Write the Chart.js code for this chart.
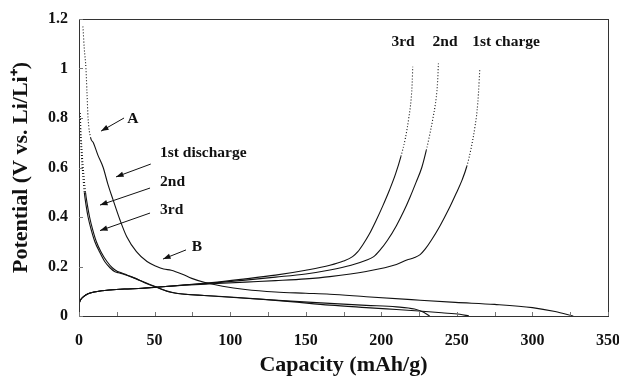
<!DOCTYPE html>
<html>
<head>
<meta charset="utf-8">
<script src="https://cdn.jsdelivr.net/npm/chart.js@4.4.0/dist/chart.umd.min.js"></script>
<style>
  html, body { margin: 0; padding: 0; background: #fff; }
  #wrap { width: 619px; height: 379px; }
</style>
</head>
<body>
<div id="wrap"><canvas id="capacity-chart" width="619" height="379"></canvas></div>
<script>
// discharge curves (capacity mAh/g, potential V)
const discharge1Cap = [2.6, 3.5, 4.6, 5.3, 6.0, 7.7, 9.5, 12.5, 16, 19, 22.5, 27, 31.6, 38, 45, 51.4, 56, 61, 68, 74.6, 83.4, 95, 110, 130, 150, 166, 190, 220, 249, 275, 300, 315, 327];
const discharge1V   = [1.17, 1.08, 1.0, 0.9, 0.8, 0.72, 0.70, 0.65, 0.60, 0.535, 0.47, 0.39, 0.32, 0.26, 0.22, 0.20, 0.19, 0.185, 0.17, 0.152, 0.135, 0.12, 0.107, 0.097, 0.092, 0.088, 0.078, 0.066, 0.055, 0.047, 0.034, 0.018, 0.0];

const discharge2Cap = [0.8, 1.5, 2.3, 3.2, 4.3, 5.5, 7, 9, 11.5, 14.5, 18.5, 22, 25.5, 28, 32, 38, 45, 52, 58, 64, 72, 83, 100, 120, 140, 166, 190, 210, 225, 240, 252, 258];
const discharge2V   = [0.82, 0.72, 0.64, 0.57, 0.5, 0.45, 0.4, 0.35, 0.3, 0.26, 0.22, 0.195, 0.18, 0.175, 0.165, 0.15, 0.13, 0.115, 0.1, 0.092, 0.087, 0.083, 0.077, 0.068, 0.058, 0.044, 0.034, 0.026, 0.02, 0.013, 0.007, 0];

const discharge3Cap = [0.5, 1.0, 1.7, 2.5, 3.5, 4.6, 6, 8, 10.5, 13.5, 17, 20.5, 23.5, 26, 30, 36, 43, 50, 56, 62, 70, 80, 95, 115, 140, 166, 190, 210, 222, 228, 232];
const discharge3V   = [0.82, 0.72, 0.64, 0.57, 0.5, 0.45, 0.4, 0.35, 0.3, 0.26, 0.22, 0.195, 0.18, 0.175, 0.168, 0.155, 0.137, 0.12, 0.105, 0.095, 0.088, 0.084, 0.078, 0.07, 0.06, 0.051, 0.043, 0.037, 0.028, 0.015, 0];

// charge curves
const charge1Cap = [0, 1, 3, 6, 10, 15, 20, 30, 42, 55, 70, 88, 110, 130, 150, 166, 190, 210, 216.9, 222, 225.7, 229, 233, 238.9, 244.5, 249.5, 253.5, 256.6, 259.5, 262, 263.4, 264.3, 265.2];
const charge1V   = [0.05, 0.065, 0.078, 0.09, 0.097, 0.102, 0.105, 0.109, 0.112, 0.118, 0.124, 0.13, 0.137, 0.143, 0.15, 0.159, 0.18, 0.208, 0.226, 0.236, 0.248, 0.27, 0.305, 0.365, 0.43, 0.495, 0.55, 0.605, 0.68, 0.765, 0.83, 0.9, 1.0];

const charge2Cap = [0, 1, 3, 6, 10, 15, 20, 30, 42, 55, 70, 88, 110, 130, 150, 166, 180, 190, 195, 199, 204, 210, 215, 219, 223, 226.8, 229.8, 232.3, 234.5, 236.3, 237.3, 237.8];
const charge2V   = [0.05, 0.065, 0.078, 0.09, 0.097, 0.102, 0.105, 0.109, 0.112, 0.118, 0.125, 0.133, 0.145, 0.157, 0.17, 0.186, 0.205, 0.225, 0.24, 0.265, 0.305, 0.365, 0.425, 0.48, 0.54, 0.6, 0.67, 0.74, 0.81, 0.88, 0.95, 1.02];

const charge3Cap = [0, 1, 3, 6, 10, 15, 20, 30, 42, 55, 70, 88, 110, 130, 150, 166, 175, 181, 184.5, 188, 192, 196.5, 201, 205.5, 209.5, 213, 216, 218.2, 219.8, 220.5, 220.8];
const charge3V   = [0.05, 0.065, 0.078, 0.09, 0.097, 0.102, 0.105, 0.109, 0.112, 0.118, 0.126, 0.135, 0.15, 0.165, 0.185, 0.205, 0.222, 0.24, 0.26, 0.29, 0.33, 0.385, 0.445, 0.51, 0.575, 0.645, 0.72, 0.8, 0.88, 0.95, 1.007];

const xTicks = [0, 50, 100, 150, 200, 250, 300, 350];
const yTicks = [0, 0.2, 0.4, 0.6, 0.8, 1, 1.2];

// text labels and arrows, in data units
const labels = [
    { text: 'A', x: 35.7, y: 0.796, align: 'center' },
    { text: '1st discharge', x: 53.6, y: 0.659, align: 'left' },
    { text: '2nd', x: 53.6, y: 0.541, align: 'left' },
    { text: '3rd', x: 53.6, y: 0.428, align: 'left' },
    { text: 'B', x: 78.1, y: 0.28, align: 'center' },
    { text: '3rd', x: 214.4, y: 1.108, align: 'center' },
    { text: '2nd', x: 242.2, y: 1.108, align: 'center' },
    { text: '1st charge', x: 282.6, y: 1.108, align: 'center' }
];
const arrows = [
    [29.8, 0.8, 14.6, 0.747],
    [47.5, 0.614, 24.5, 0.562],
    [47, 0.517, 13.9, 0.448],
    [47, 0.416, 13.9, 0.345],
    [70.8, 0.267, 55.6, 0.23]
];

const serif = '"Liberation Serif", "Times New Roman", serif';

function zip(xs, ys) {
    return xs.map((x, i) => ({ x: x, y: ys[i] }));
}

function curve(xs, ys, dotAbove) {
    return {
        data: zip(xs, ys),
        showLine: true,
        borderColor: '#111',
        borderWidth: 1.1,
        pointRadius: 0,
        cubicInterpolationMode: 'monotone',
        segment: {
            borderDash: ctx => (ctx.p0.parsed.y > dotAbove && ctx.p1.parsed.y > dotAbove) ? [1, 2] : undefined
        }
    };
}

const frame = {
    id: 'frame',
    afterDraw(chart) {
        const { ctx, chartArea: a, scales: { x, y } } = chart;
        ctx.save();
        ctx.strokeStyle = '#333';
        ctx.lineWidth = 1;
        ctx.strokeRect(a.left + 0.5, a.top + 0.5, a.right - a.left, a.bottom - a.top);

        // small inward ticks
        ctx.strokeStyle = '#777';
        for (let v = 0; v <= 350; v += 25) {
            const px = Math.round(x.getPixelForValue(v)) + 0.5;
            ctx.beginPath();
            ctx.moveTo(px, a.bottom);
            ctx.lineTo(px, a.bottom - 4);
            ctx.stroke();
        }
        yTicks.forEach(v => {
            const py = Math.round(y.getPixelForValue(v)) + 0.5;
            ctx.beginPath();
            ctx.moveTo(a.left, py);
            ctx.lineTo(a.left + 4, py);
            ctx.stroke();
        });

        // labels
        ctx.fillStyle = '#111';
        ctx.font = 'bold 15.5px ' + serif;
        ctx.textBaseline = 'middle';
        labels.forEach(l => {
            ctx.textAlign = l.align;
            ctx.fillText(l.text, x.getPixelForValue(l.x), y.getPixelForValue(l.y));
        });

        // arrows
        ctx.strokeStyle = '#111';
        arrows.forEach(ar => {
            const x0 = x.getPixelForValue(ar[0]), y0 = y.getPixelForValue(ar[1]);
            const x1 = x.getPixelForValue(ar[2]), y1 = y.getPixelForValue(ar[3]);
            const ang = Math.atan2(y1 - y0, x1 - x0);
            ctx.beginPath();
            ctx.moveTo(x0, y0);
            ctx.lineTo(x1, y1);
            ctx.stroke();
            ctx.beginPath();
            ctx.moveTo(x1, y1);
            ctx.lineTo(x1 - 8 * Math.cos(ang - 0.35), y1 - 8 * Math.sin(ang - 0.35));
            ctx.lineTo(x1 - 8 * Math.cos(ang + 0.35), y1 - 8 * Math.sin(ang + 0.35));
            ctx.closePath();
            ctx.fill();
        });
        ctx.restore();
    }
};

const ctx = document.getElementById('capacity-chart').getContext('2d');
new Chart(ctx, {
    type: 'scatter',
    data: {
        datasets: [
            curve(discharge1Cap, discharge1V, 0.71),
            curve(discharge2Cap, discharge2V, 0.46),
            curve(discharge3Cap, discharge3V, 0.46),
            curve(charge1Cap, charge1V, 0.6),
            curve(charge2Cap, charge2V, 0.6),
            curve(charge3Cap, charge3V, 0.6)
        ]
    },
    options: {
        responsive: false,
        animation: false,
        layout: { padding: { top: 19, right: 11, left: 0, bottom: 0 } },
        scales: {
            x: {
                type: 'linear',
                min: 0,
                max: 350,
                afterFit: s => { s.height = 63; s.paddingLeft = 0; s.paddingRight = 0; },
                afterBuildTicks: s => { s.ticks = xTicks.map(v => ({ value: v })); },
                grid: { display: false, drawTicks: false },
                border: { display: false },
                ticks: {
                    color: '#111',
                    padding: 15,
                    maxRotation: 0,
                    font: { family: serif, size: 16, weight: 'bold' }
                },
                title: {
                    display: true,
                    text: 'Capacity (mAh/g)',
                    color: '#111',
                    padding: { top: 0, bottom: 0 },
                    font: { family: serif, size: 22, weight: 'bold' }
                }
            },
            y: {
                min: 0,
                max: 1.2,
                afterFit: s => { s.width = 79; s.paddingTop = 0; s.paddingBottom = 0; },
                afterBuildTicks: s => { s.ticks = yTicks.map(v => ({ value: v })); },
                grid: { display: false, drawTicks: false },
                border: { display: false },
                ticks: {
                    color: '#111',
                    padding: 11,
                    callback: v => String(+v.toFixed(1)),
                    font: { family: serif, size: 16, weight: 'bold' }
                },
                title: {
                    display: true,
                    text: 'Potential (V vs. Li/Li⁺)',
                    color: '#111',
                    padding: { top: 8, bottom: 0 },
                    font: { family: serif, size: 22, weight: 'bold' }
                }
            }
        },
        plugins: {
            legend: { display: false },
            tooltip: { enabled: false }
        }
    },
    plugins: [frame]
});
</script>
</body>
</html>
